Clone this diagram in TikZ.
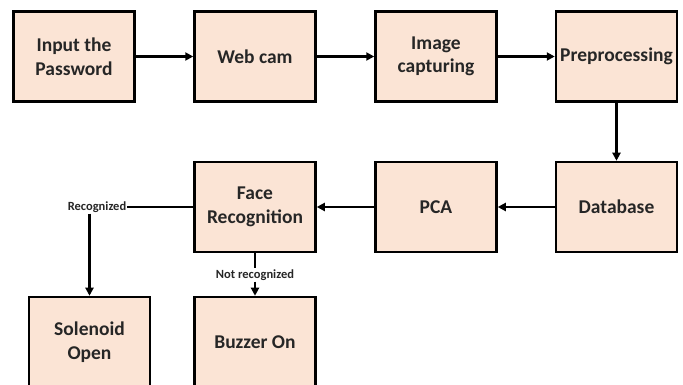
\documentclass[tikz,border=0pt]{standalone}
\usepackage{fontspec}
\setmainfont{Carlito}
\usetikzlibrary{arrows.meta}
\definecolor{boxfill}{HTML}{FBE4D5}
\definecolor{ink}{HTML}{262626}
\begin{document}
\begin{tikzpicture}[x=1pt,y=1pt,
  block/.style={draw=black, line width=2.5pt, fill=boxfill, minimum width=121pt,
    minimum height=90pt, inner sep=0pt, align=center, text=ink,
    font=\fontsize{19.5}{23.5}\selectfont\bfseries},
  tag/.style={font=\fontsize{12.5}{14}\selectfont\bfseries, text=ink, inner sep=1pt},
  link/.style={line width=2.2pt, draw=black},
  flow/.style={link, -{Triangle[length=8pt,width=8pt]}}]
\useasboundingbox (0,0) rectangle (683,385);
\clip (0,0) rectangle (683,385);
% top row
\node[block] (pwd) at (74,328.5) {Input the\\Password};
\node[block] (cam) at (255,328.5) {Web cam};
\node[block] (cap) at (436,328.5) {Image\\capturing};
\node[block] (pre) at (616.5,328.5) {Preprocessing};
% middle row
\node[block] (db)  at (616.5,178) {Database};
\node[block] (pca) at (436,178) {PCA};
\node[block] (fr)  at (255,178) {Face\\Recognition};
% outputs
\node[block] (sol) at (89.5,43) {Solenoid\\Open};
\node[block] (buz) at (255,43) {Buzzer On};
% decision labels
\node[tag] (yes) at (97,178) {Recognized};
\node[tag] (no)  at (255,110) {Not recognized};
% connectors
\draw[flow] (pwd) -- (cam);
\draw[flow] (cam) -- (cap);
\draw[flow] (cap) -- (pre);
\draw[flow] (pre) -- (db);
\draw[flow] (db) -- (pca);
\draw[flow] (pca) -- (fr);
\draw[link] (fr.west) -- (yes.east);
\draw[flow] (yes.south -| sol.north) -- (sol.north);
\draw[link] (fr.south) -- (no.north);
\draw[flow] (no.south) -- (buz.north);
\end{tikzpicture}
\end{document}
